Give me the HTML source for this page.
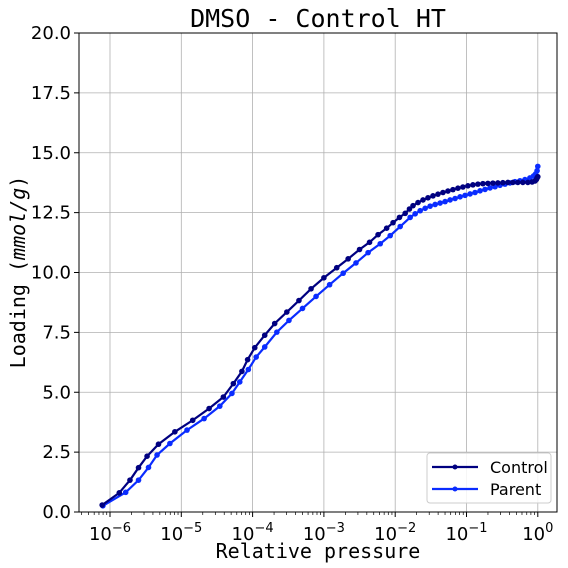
<!DOCTYPE html>
<html><head><meta charset="utf-8"><style>
body{margin:0;background:#fff;width:568px;height:568px;overflow:hidden}
svg{display:block}
</style></head><body>
<svg id="chart" width="568" height="568" xmlns="http://www.w3.org/2000/svg">
<text x="318" y="27" text-anchor="middle" font-family="DejaVu Sans Mono, monospace" font-size="25">DMSO - Control HT</text>
<g id="grid"></g>
<g id="axes"></g>
<g id="series"></g>
<text x="318" y="558" text-anchor="middle" font-family="DejaVu Sans Mono, monospace" font-size="20">Relative pressure</text>
<text transform="translate(25,272) rotate(-90)" text-anchor="middle" font-family="DejaVu Sans Mono, monospace" font-size="20">Loading (<tspan font-style="italic">mmol/g</tspan>)</text>
<g>
<rect x="427" y="453" width="124" height="50" rx="3" fill="#fff" fill-opacity="0.85" stroke="#ccc"/>
<g><line x1="432" y1="467" x2="478" y2="467" stroke="#000080" stroke-width="2.2"/><circle cx="455" cy="467" r="2.5" fill="#000080"/><text x="490" y="473" font-family="DejaVu Sans, sans-serif" font-size="16">Control</text></g>
<g><line x1="432" y1="489" x2="478" y2="489" stroke="#0a2cff" stroke-width="2.2"/><circle cx="455" cy="489" r="2.5" fill="#0a2cff"/><text x="490" y="495" font-family="DejaVu Sans, sans-serif" font-size="16">Parent</text></g>
</g>
</svg>
<script>
const controlLogP=[-6.11,-5.87,-5.72,-5.60,-5.48,-5.32,-5.09,-4.84,-4.61,-4.41,-4.27,-4.15,-4.07,-3.97,-3.83,-3.69,-3.52,-3.35,-3.18,-3.00,-2.82,-2.66,-2.50,-2.36,-2.24,-2.12,-2.03,-1.94,-1.86,-1.80,-1.75,-1.68,-1.61,-1.54,-1.47,-1.40,-1.33,-1.26,-1.19,-1.12,-1.05,-0.98,-0.91,-0.84,-0.77,-0.70,-0.63,-0.56,-0.49,-0.42,-0.35,-0.28,-0.21,-0.14,-0.08,-0.04,-0.02,-0.01,0];
const controlLoad=[0.29,0.80,1.33,1.85,2.33,2.83,3.35,3.83,4.32,4.80,5.36,5.87,6.36,6.86,7.38,7.87,8.35,8.83,9.32,9.78,10.2,10.57,10.96,11.26,11.58,11.85,12.08,12.3,12.47,12.65,12.79,12.92,13.03,13.12,13.2,13.27,13.34,13.4,13.46,13.52,13.57,13.62,13.66,13.69,13.71,13.72,13.73,13.74,13.75,13.76,13.76,13.76,13.76,13.76,13.78,13.82,13.88,13.95,14.0];
const parentLogP=[-6.10,-5.78,-5.60,-5.46,-5.34,-5.16,-4.92,-4.68,-4.46,-4.29,-4.18,-4.06,-3.95,-3.83,-3.66,-3.49,-3.30,-3.11,-2.92,-2.73,-2.55,-2.38,-2.21,-2.07,-1.93,-1.79,-1.72,-1.65,-1.58,-1.51,-1.44,-1.37,-1.30,-1.23,-1.16,-1.09,-1.02,-0.95,-0.88,-0.81,-0.74,-0.67,-0.60,-0.53,-0.46,-0.39,-0.32,-0.25,-0.18,-0.11,-0.06,-0.03,-0.01,0];
const parentLoad=[0.26,0.82,1.33,1.86,2.38,2.86,3.42,3.90,4.42,4.95,5.43,5.95,6.47,6.89,7.51,8.0,8.5,9.0,9.49,9.97,10.4,10.83,11.2,11.54,11.92,12.3,12.45,12.58,12.68,12.77,12.84,12.9,12.96,13.03,13.09,13.16,13.22,13.28,13.34,13.41,13.47,13.53,13.58,13.64,13.69,13.74,13.79,13.83,13.88,13.95,14.03,14.12,14.25,14.43];
const yTicks=[0,2.5,5,7.5,10,12.5,15,17.5,20];
const xDecades=[-6,-5,-4,-3,-2,-1,0];
const L=79,R=557,T=33,B=512;
const X=lp=>110+(lp+6)*71.3;
const Y=v=>B-(v/20)*(B-T);
const NS='http://www.w3.org/2000/svg';
function mk(tag,at,parent){const e=document.createElementNS(NS,tag);for(const k in at)e.setAttribute(k,at[k]);parent.appendChild(e);return e;}
const grid=document.getElementById('grid'),axes=document.getElementById('axes'),ser=document.getElementById('series');
yTicks.forEach(v=>{
 const g=mk('line',{x1:L,x2:R,y1:Y(v),y2:Y(v),stroke:'#b0b0b0','stroke-width':0.8},grid);
 
 
 mk('line',{x1:L-5,x2:L,y1:Y(v),y2:Y(v),stroke:'#000'},axes);
 const t=mk('text',{x:L-8,y:Y(v)+6,'text-anchor':'end','font-family':'DejaVu Sans, sans-serif','font-size':18},axes);
 t.textContent=v.toFixed(1);
 
 
});
xDecades.forEach(d=>{
 const g=mk('line',{x1:X(d),x2:X(d),y1:T,y2:B,stroke:'#b0b0b0','stroke-width':0.8},grid);
 
 
 mk('line',{x1:X(d),x2:X(d),y1:B,y2:B+5,stroke:'#000'},axes);
 const t=mk('text',{x:X(d),y:B+28,'text-anchor':'middle','font-family':'DejaVu Sans, sans-serif','font-size':18},axes);
 t.textContent='10';
 const s=mk('tspan',{dy:-8,'font-size':13},t);s.textContent=d===0?'0':'\u2212'+(-d);
 
 
});
for(let d=-7;d<=0;d++)for(let m=2;m<10;m++){const lp=d+Math.log10(m);const x=X(lp);if(x>L&&x<R)mk('line',{x1:x,x2:x,y1:B,y2:B+3,stroke:'#000','stroke-width':0.7},axes);}
mk('rect',{x:L,y:T,width:R-L,height:B-T,fill:'none',stroke:'#000','stroke-width':1},axes);
function draw(xs,ys,col,name){
 const g=mk('g',{},ser);
 
 
 mk('polyline',{points:xs.map((x,i)=>X(x)+','+Y(ys[i])).join(' '),fill:'none',stroke:col,'stroke-width':2.2},g);
 xs.forEach((x,i)=>{const c=mk('circle',{cx:X(x),cy:Y(ys[i]),r:2.8,fill:col},g);
  
  });
}
draw(parentLogP,parentLoad,'#0a2cff','parent-series');
draw(controlLogP,controlLoad,'#000080','control-series');
</script>
</body></html>
